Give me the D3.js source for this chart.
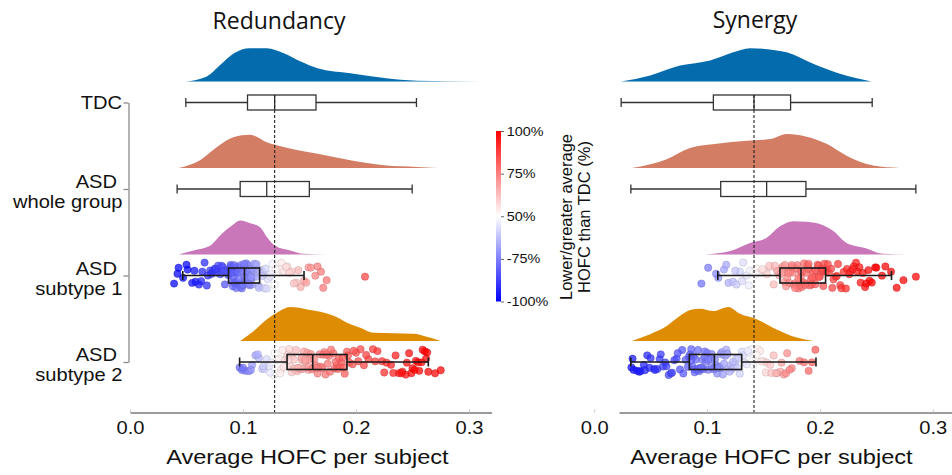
<!DOCTYPE html>
<html>
<head>
<meta charset="utf-8">
<script src="https://d3js.org/d3.v7.min.js"></script>
<style>
  body { margin: 0; background: #fff; }
  text { font-family: "Liberation Sans", Arial, sans-serif; fill: #111; }
</style>
</head>
<body>
<svg id="chart" width="952" height="475"></svg>
<script>
// ---- data ----
var groups = ["TDC", "ASD whole group", "ASD subtype 1", "ASD subtype 2"];
var groupLines = [["TDC"], ["ASD", "whole group"], ["ASD", "subtype 1"], ["ASD", "subtype 2"]];
var groupColors = ["#046cad", "#d27d64", "#c977b9", "#de8c03"];

var xTicks = [0, 0.1, 0.2, 0.3];
var cbTicks = [0, 0.25, 0.5, 0.75, 1];
var cbLabels = ["-100%", "-75%", "50%", "75%", "100%"];

// density outlines (x value, relative height) per group
var redDensX = [
  [0.049, 0.068, 0.080, 0.092, 0.106, 0.121, 0.136, 0.151, 0.166, 0.195, 0.225, 0.254, 0.310],
  [0.043, 0.062, 0.077, 0.092, 0.106, 0.121, 0.136, 0.166, 0.195, 0.225, 0.254, 0.272],
  [0.0428, 0.0561, 0.0709, 0.0813, 0.0902, 0.0975, 0.1064, 0.1152, 0.1212, 0.1285, 0.1418, 0.1536, 0.1744],
  [0.0975, 0.1093, 0.1212, 0.130, 0.1418, 0.1566, 0.1684, 0.1802, 0.1921, 0.2039, 0.2158, 0.2335, 0.2512, 0.2601, 0.2748]
];
var redDensY = [
  [0, 0.15, 0.49, 0.83, 0.98, 0.98, 0.83, 0.59, 0.39, 0.24, 0.10, 0.02, 0],
  [0, 0.23, 0.62, 0.91, 0.98, 0.76, 0.62, 0.42, 0.23, 0.08, 0.03, 0],
  [0, 0.12, 0.26, 0.61, 0.85, 1.0, 0.92, 0.80, 0.51, 0.26, 0.12, 0.02, 0],
  [0, 0.29, 0.64, 0.83, 1.0, 0.93, 0.86, 0.74, 0.54, 0.39, 0.24, 0.23, 0.21, 0.15, 0]
];
var synDensX = [
  [0.0239, 0.0496, 0.0761, 0.1027, 0.1233, 0.1381, 0.1587, 0.1705, 0.194, 0.2177, 0.2457],
  [0.0334, 0.0643, 0.085, 0.1086, 0.1351, 0.1558, 0.1705, 0.1882, 0.2059, 0.2236, 0.2472, 0.2708],
  [0.0982, 0.1204, 0.138, 0.1528, 0.1646, 0.1764, 0.1882, 0.2029, 0.2118, 0.2236, 0.2413, 0.256, 0.2767],
  [0.0334, 0.0496, 0.0643, 0.0761, 0.085, 0.0938, 0.1056, 0.1188, 0.1292, 0.144, 0.1617, 0.1794, 0.1941]
];
var synDensY = [
  [0, 0.18, 0.47, 0.62, 0.86, 0.98, 0.93, 0.86, 0.52, 0.23, 0],
  [0, 0.26, 0.59, 0.71, 0.80, 0.85, 1.0, 0.92, 0.71, 0.36, 0.07, 0],
  [0, 0.10, 0.34, 0.49, 0.83, 0.98, 0.96, 0.86, 0.69, 0.34, 0.18, 0.02, 0],
  [0, 0.20, 0.44, 0.74, 0.91, 0.95, 0.88, 1.0, 0.80, 0.64, 0.34, 0.10, 0]
];

// box stats: whisker low, q1, median, q3, whisker high
var redBox = [
  [0.0494, 0.104, 0.128, 0.1646, 0.2535],
  [0.0417, 0.0975, 0.121, 0.1587, 0.2497],
  [0.0467, 0.0872, 0.1013, 0.1147, 0.154],
  [0.097, 0.139, 0.1617, 0.192, 0.264]
];
var synBox = [
  [0.0239, 0.1056, 0.1416, 0.174, 0.2463],
  [0.0325, 0.1121, 0.1528, 0.1876, 0.285],
  [0.1095, 0.1646, 0.1832, 0.205, 0.2634],
  [0.0325, 0.0843, 0.1065, 0.1307, 0.1965]
];

// subject values for the subtype rows
var redSub1Pts = [0.039, 0.043, 0.047, 0.051, 0.055, 0.058, 0.061, 0.064, 0.066, 0.069, 0.071, 0.073, 0.075, 0.077, 0.079, 0.080, 0.082, 0.084, 0.085, 0.087,
  0.088, 0.088, 0.089, 0.090, 0.091, 0.091, 0.092, 0.093, 0.093, 0.094, 0.095, 0.095, 0.096, 0.097, 0.097, 0.098, 0.099, 0.099, 0.100, 0.101,
  0.102, 0.102, 0.103, 0.104, 0.104, 0.105, 0.106, 0.106, 0.107, 0.108, 0.109, 0.109, 0.110, 0.111, 0.111, 0.112, 0.113, 0.113, 0.114, 0.115,
  0.116, 0.118, 0.120, 0.122, 0.124, 0.126, 0.128, 0.130, 0.133, 0.136, 0.139, 0.143, 0.147, 0.151, 0.154, 0.158, 0.164, 0.169, 0.174, 0.208,
  0.042, 0.050, 0.057, 0.063, 0.068, 0.072, 0.076, 0.078, 0.081, 0.083, 0.086, 0.089, 0.090, 0.092, 0.094, 0.096, 0.098, 0.100, 0.101, 0.103,
  0.105, 0.107, 0.108, 0.110, 0.112, 0.114, 0.117, 0.119, 0.121, 0.125, 0.129, 0.134, 0.138, 0.141, 0.145, 0.149, 0.156, 0.160, 0.166, 0.171];
var redSub2Pts = [0.097, 0.099, 0.102, 0.105, 0.108, 0.111, 0.114, 0.117, 0.119, 0.121, 0.123, 0.125, 0.127, 0.129, 0.130, 0.132, 0.134, 0.135, 0.137, 0.139,
  0.140, 0.141, 0.142, 0.143, 0.144, 0.145, 0.146, 0.147, 0.148, 0.149, 0.151, 0.152, 0.153, 0.154, 0.155, 0.157, 0.158, 0.159, 0.160, 0.162,
  0.163, 0.164, 0.166, 0.167, 0.169, 0.170, 0.172, 0.173, 0.175, 0.176, 0.178, 0.180, 0.181, 0.183, 0.184, 0.186, 0.187, 0.189, 0.190, 0.192,
  0.194, 0.197, 0.200, 0.204, 0.207, 0.211, 0.215, 0.219, 0.223, 0.227, 0.231, 0.235, 0.238, 0.241, 0.244, 0.247, 0.250, 0.253, 0.256, 0.259, 0.262, 0.264, 0.275,
  0.100, 0.107, 0.113, 0.118, 0.124, 0.128, 0.133, 0.136, 0.140, 0.143, 0.146, 0.149, 0.152, 0.155, 0.158, 0.161, 0.165, 0.168, 0.171, 0.174,
  0.177, 0.182, 0.185, 0.188, 0.193, 0.198, 0.202, 0.209, 0.217, 0.225, 0.233, 0.240, 0.245, 0.249, 0.252, 0.255, 0.258, 0.261, 0.263, 0.270];
var synSub1Pts = [0.095, 0.101, 0.110, 0.115, 0.119, 0.123, 0.126, 0.129, 0.132, 0.135, 0.138, 0.141, 0.144, 0.147, 0.150, 0.153, 0.156, 0.159, 0.162, 0.164,
  0.165, 0.166, 0.167, 0.168, 0.169, 0.170, 0.171, 0.172, 0.173, 0.174, 0.175, 0.176, 0.177, 0.178, 0.179, 0.180, 0.181, 0.182, 0.183, 0.183,
  0.184, 0.185, 0.186, 0.187, 0.188, 0.189, 0.190, 0.191, 0.192, 0.193, 0.194, 0.195, 0.196, 0.198, 0.199, 0.200, 0.201, 0.202, 0.203, 0.205,
  0.206, 0.208, 0.210, 0.212, 0.214, 0.216, 0.218, 0.221, 0.224, 0.227, 0.230, 0.233, 0.236, 0.240, 0.244, 0.249, 0.255, 0.263, 0.274, 0.285,
  0.108, 0.117, 0.125, 0.131, 0.137, 0.143, 0.149, 0.155, 0.160, 0.163, 0.166, 0.169, 0.172, 0.175, 0.178, 0.181, 0.184, 0.187, 0.190, 0.193,
  0.196, 0.199, 0.202, 0.204, 0.207, 0.211, 0.215, 0.219, 0.223, 0.226, 0.229, 0.232, 0.235, 0.238, 0.241, 0.243, 0.246, 0.250, 0.258, 0.268];
var synSub2Pts = [0.033, 0.035, 0.038, 0.041, 0.044, 0.047, 0.050, 0.053, 0.056, 0.058, 0.061, 0.063, 0.066, 0.068, 0.071, 0.073, 0.076, 0.078, 0.081, 0.084,
  0.085, 0.086, 0.087, 0.088, 0.089, 0.090, 0.091, 0.092, 0.093, 0.094, 0.095, 0.096, 0.097, 0.098, 0.099, 0.100, 0.101, 0.103, 0.104, 0.106,
  0.107, 0.108, 0.109, 0.110, 0.111, 0.112, 0.113, 0.114, 0.115, 0.116, 0.117, 0.118, 0.119, 0.121, 0.122, 0.124, 0.125, 0.127, 0.129, 0.131,
  0.133, 0.135, 0.137, 0.139, 0.141, 0.143, 0.145, 0.147, 0.150, 0.153, 0.156, 0.159, 0.162, 0.165, 0.168, 0.171, 0.175, 0.182, 0.190, 0.196,
  0.034, 0.040, 0.045, 0.049, 0.054, 0.059, 0.064, 0.069, 0.074, 0.079, 0.083, 0.086, 0.089, 0.092, 0.095, 0.098, 0.101, 0.104, 0.106, 0.109,
  0.112, 0.115, 0.118, 0.120, 0.123, 0.126, 0.128, 0.132, 0.136, 0.140, 0.144, 0.148, 0.152, 0.157, 0.161, 0.166, 0.170, 0.173, 0.186, 0.193];

// ---- layout ----
var svg = d3.select("#chart");
var SX = 1.15;            // the figure's text is a little wide
var axisY = 412.5;
var rowY = d3.scalePoint().domain(groups).range([102.5, 362]);
var densH = d3.scaleLinear().domain([0, 1]).range([0, 34]);
var pctColor = d3.scaleLinear().domain([0, 0.5, 1]).range(["#0000ff", "#ffffff", "#ff0000"]);

// deterministic vertical jitter in [-0.5, 0.5] (integer hash of the index)
function jit(i) {
  var h = Math.imul(i + 1, 2654435761);
  h ^= h >>> 15;
  h = Math.imul(h, 2246822519);
  h ^= h >>> 13;
  return ((h >>> 0) % 1000) / 999 - 0.5;
}

function wideText(sel, x, y) {
  return sel.attr("transform", "translate(" + x + "," + y + ") scale(" + SX + ",1)");
}

var panels = [
  { title: "Redundancy", titleX: 279, titleY: 29, x: d3.scaleLinear().domain([0, 0.32]).range([130, 491.6]),
    densX: redDensX, densY: redDensY, box: redBox, pts: [null, null, redSub1Pts, redSub2Pts] },
  { title: "Synergy", titleX: 755, titleY: 28, x: d3.scaleLinear().domain([0.022, 0.317]).range([619, 952]),
    densX: synDensX, densY: synDensY, box: synBox, pts: [null, null, synSub1Pts, synSub2Pts] }
];

panels.forEach(function(p) {
  var x = p.x;
  var g = svg.append("g");

  // half violins
  groups.forEach(function(gr, i) {
    var base = rowY(gr) - 21;
    var area = d3.area()
      .x(function(d) { return x(d[0]); })
      .y0(base)
      .y1(function(d) { return base - densH(d[1]); })
      .curve(d3.curveMonotoneX);
    g.append("path")
      .datum(d3.zip(p.densX[i], p.densY[i]))
      .attr("d", area)
      .attr("fill", groupColors[i]);
  });

  // subjects, coloured by where they sit in the TDC distribution
  var pct = d3.scaleLinear().domain(p.box[0]).range([0, 0.25, 0.5, 0.75, 1]).clamp(true);
  groups.forEach(function(gr, i) {
    if (!p.pts[i]) return;
    var cy = rowY(gr);
    g.append("g").selectAll("circle")
      .data(p.pts[i])
      .join("circle")
      .attr("cx", function(d) { return x(d); })
      .attr("cy", function(d, j) { return cy + jit(j + i * 500) * 26; })
      .attr("r", 3.7)
      .attr("fill", function(d) { return pctColor(pct(d)); })
      .attr("fill-opacity", 0.72)
      .attr("stroke", function(d) { return d3.color(pctColor(pct(d))).darker(0.9); })
      .attr("stroke-opacity", 0.5)
      .attr("stroke-width", 0.7);
  });

  // boxes
  groups.forEach(function(gr, i) {
    var b = p.box[i], cy = rowY(gr), hh = 7.5;
    var sub = i >= 2;
    var bg = g.append("g")
      .attr("stroke", sub ? "#1a1a1a" : "#333")
      .attr("stroke-width", sub ? 1.6 : 1.3)
      .attr("fill", "none");
    bg.append("line").attr("x1", x(b[0])).attr("x2", x(b[1])).attr("y1", cy).attr("y2", cy);
    bg.append("line").attr("x1", x(b[3])).attr("x2", x(b[4])).attr("y1", cy).attr("y2", cy);
    bg.append("line").attr("x1", x(b[0])).attr("x2", x(b[0])).attr("y1", cy - 4.5).attr("y2", cy + 4.5);
    bg.append("line").attr("x1", x(b[4])).attr("x2", x(b[4])).attr("y1", cy - 4.5).attr("y2", cy + 4.5);
    bg.append("rect").attr("x", x(b[1])).attr("y", cy - hh)
      .attr("width", x(b[3]) - x(b[1])).attr("height", 2 * hh);
    bg.append("line").attr("x1", x(b[2])).attr("x2", x(b[2])).attr("y1", cy - hh).attr("y2", cy + hh);
  });

  // TDC median reference
  g.append("line")
    .attr("x1", x(p.box[0][2])).attr("x2", x(p.box[0][2]))
    .attr("y1", rowY(groups[0]) - 7.5).attr("y2", axisY)
    .attr("stroke", "#222").attr("stroke-width", 1.1)
    .attr("stroke-dasharray", "3,2");

  // x axis
  var ax = g.append("g")
    .attr("transform", "translate(0," + axisY + ")")
    .call(d3.axisBottom(x).tickValues(xTicks).tickFormat(d3.format(".1f"))
      .tickSize(-3).tickSizeOuter(0).tickPadding(9.5));
  ax.attr("font-family", null).attr("font-size", null);
  ax.select(".domain").attr("stroke", "#7a7a7a").attr("stroke-width", 1.5);
  ax.selectAll(".tick line").attr("stroke", "#c8c8c8");
  ax.selectAll(".tick text")
    .attr("fill", "#111")
    .style("font-size", "17.5px")
    .attr("transform", "scale(" + SX + ",1)");

  wideText(g.append("text"), x(0.157), 463.5)
    .attr("text-anchor", "middle")
    .style("font-size", "20.5px")
    .text("Average HOFC per subject");

  g.append("text")
    .attr("x", p.titleX).attr("y", p.titleY)
    .attr("text-anchor", "middle")
    .style("font-family", "'Open Sans', sans-serif")
    .style("font-size", "23px")
    .text(p.title);
});

// y axis with group labels (left panel only)
var yax = svg.append("g")
  .attr("transform", "translate(128.5,0)")
  .call(d3.axisLeft(rowY).tickSize(5).tickSizeOuter(0).tickFormat(""));
yax.select(".domain").attr("stroke", "#8a8a8a").attr("stroke-width", 1.3);
yax.selectAll(".tick line").attr("stroke", "#8a8a8a").attr("stroke-width", 1.3);

groups.forEach(function(gr, i) {
  var cy = rowY(gr);
  var lines = groupLines[i];
  if (lines.length === 1) {
    wideText(svg.append("text"), 122, cy + 6.8)
      .attr("text-anchor", "end").style("font-size", "17.5px").text(lines[0]);
  } else {
    wideText(svg.append("text"), 117, cy - 1)
      .attr("text-anchor", "end").style("font-size", "17.5px").text(lines[0]);
    wideText(svg.append("text"), 122.5, cy + 19)
      .attr("text-anchor", "end").style("font-size", "17.5px").text(lines[1]);
  }
});

// colour bar
var defs = svg.append("defs");
var grad = defs.append("linearGradient").attr("id", "cbgrad")
  .attr("x1", 0).attr("y1", 1).attr("x2", 0).attr("y2", 0);
grad.append("stop").attr("offset", "0%").attr("stop-color", "#0000ff");
grad.append("stop").attr("offset", "50%").attr("stop-color", "#ffffff");
grad.append("stop").attr("offset", "100%").attr("stop-color", "#ff0000");

var cbY = d3.scaleLinear().domain([0, 1]).range([301.5, 131]);
svg.append("rect")
  .attr("x", 496).attr("y", cbY(1))
  .attr("width", 5).attr("height", cbY(0) - cbY(1))
  .attr("fill", "url(#cbgrad)");

var cax = svg.append("g")
  .attr("transform", "translate(501,0)")
  .call(d3.axisRight(cbY).tickValues(cbTicks)
    .tickFormat(function(d, i) { return cbLabels[i]; })
    .tickSize(3).tickPadding(2));
cax.attr("font-family", null).attr("font-size", null);
cax.select(".domain").attr("stroke", "none");
cax.selectAll(".tick line").attr("stroke", "#666");
cax.selectAll(".tick text")
  .attr("fill", "#111")
  .style("font-size", "12.5px")
  .attr("transform", "scale(" + SX + ",1)");

svg.append("text")
  .attr("transform", "translate(572,217) rotate(-90)")
  .attr("text-anchor", "middle")
  .style("font-size", "16.5px")
  .text("Lower/greater average");
svg.append("text")
  .attr("transform", "translate(590,217) rotate(-90)")
  .attr("text-anchor", "middle")
  .style("font-size", "16.5px")
  .text("HOFC than TDC (%)");
</script>
</body>
</html>
